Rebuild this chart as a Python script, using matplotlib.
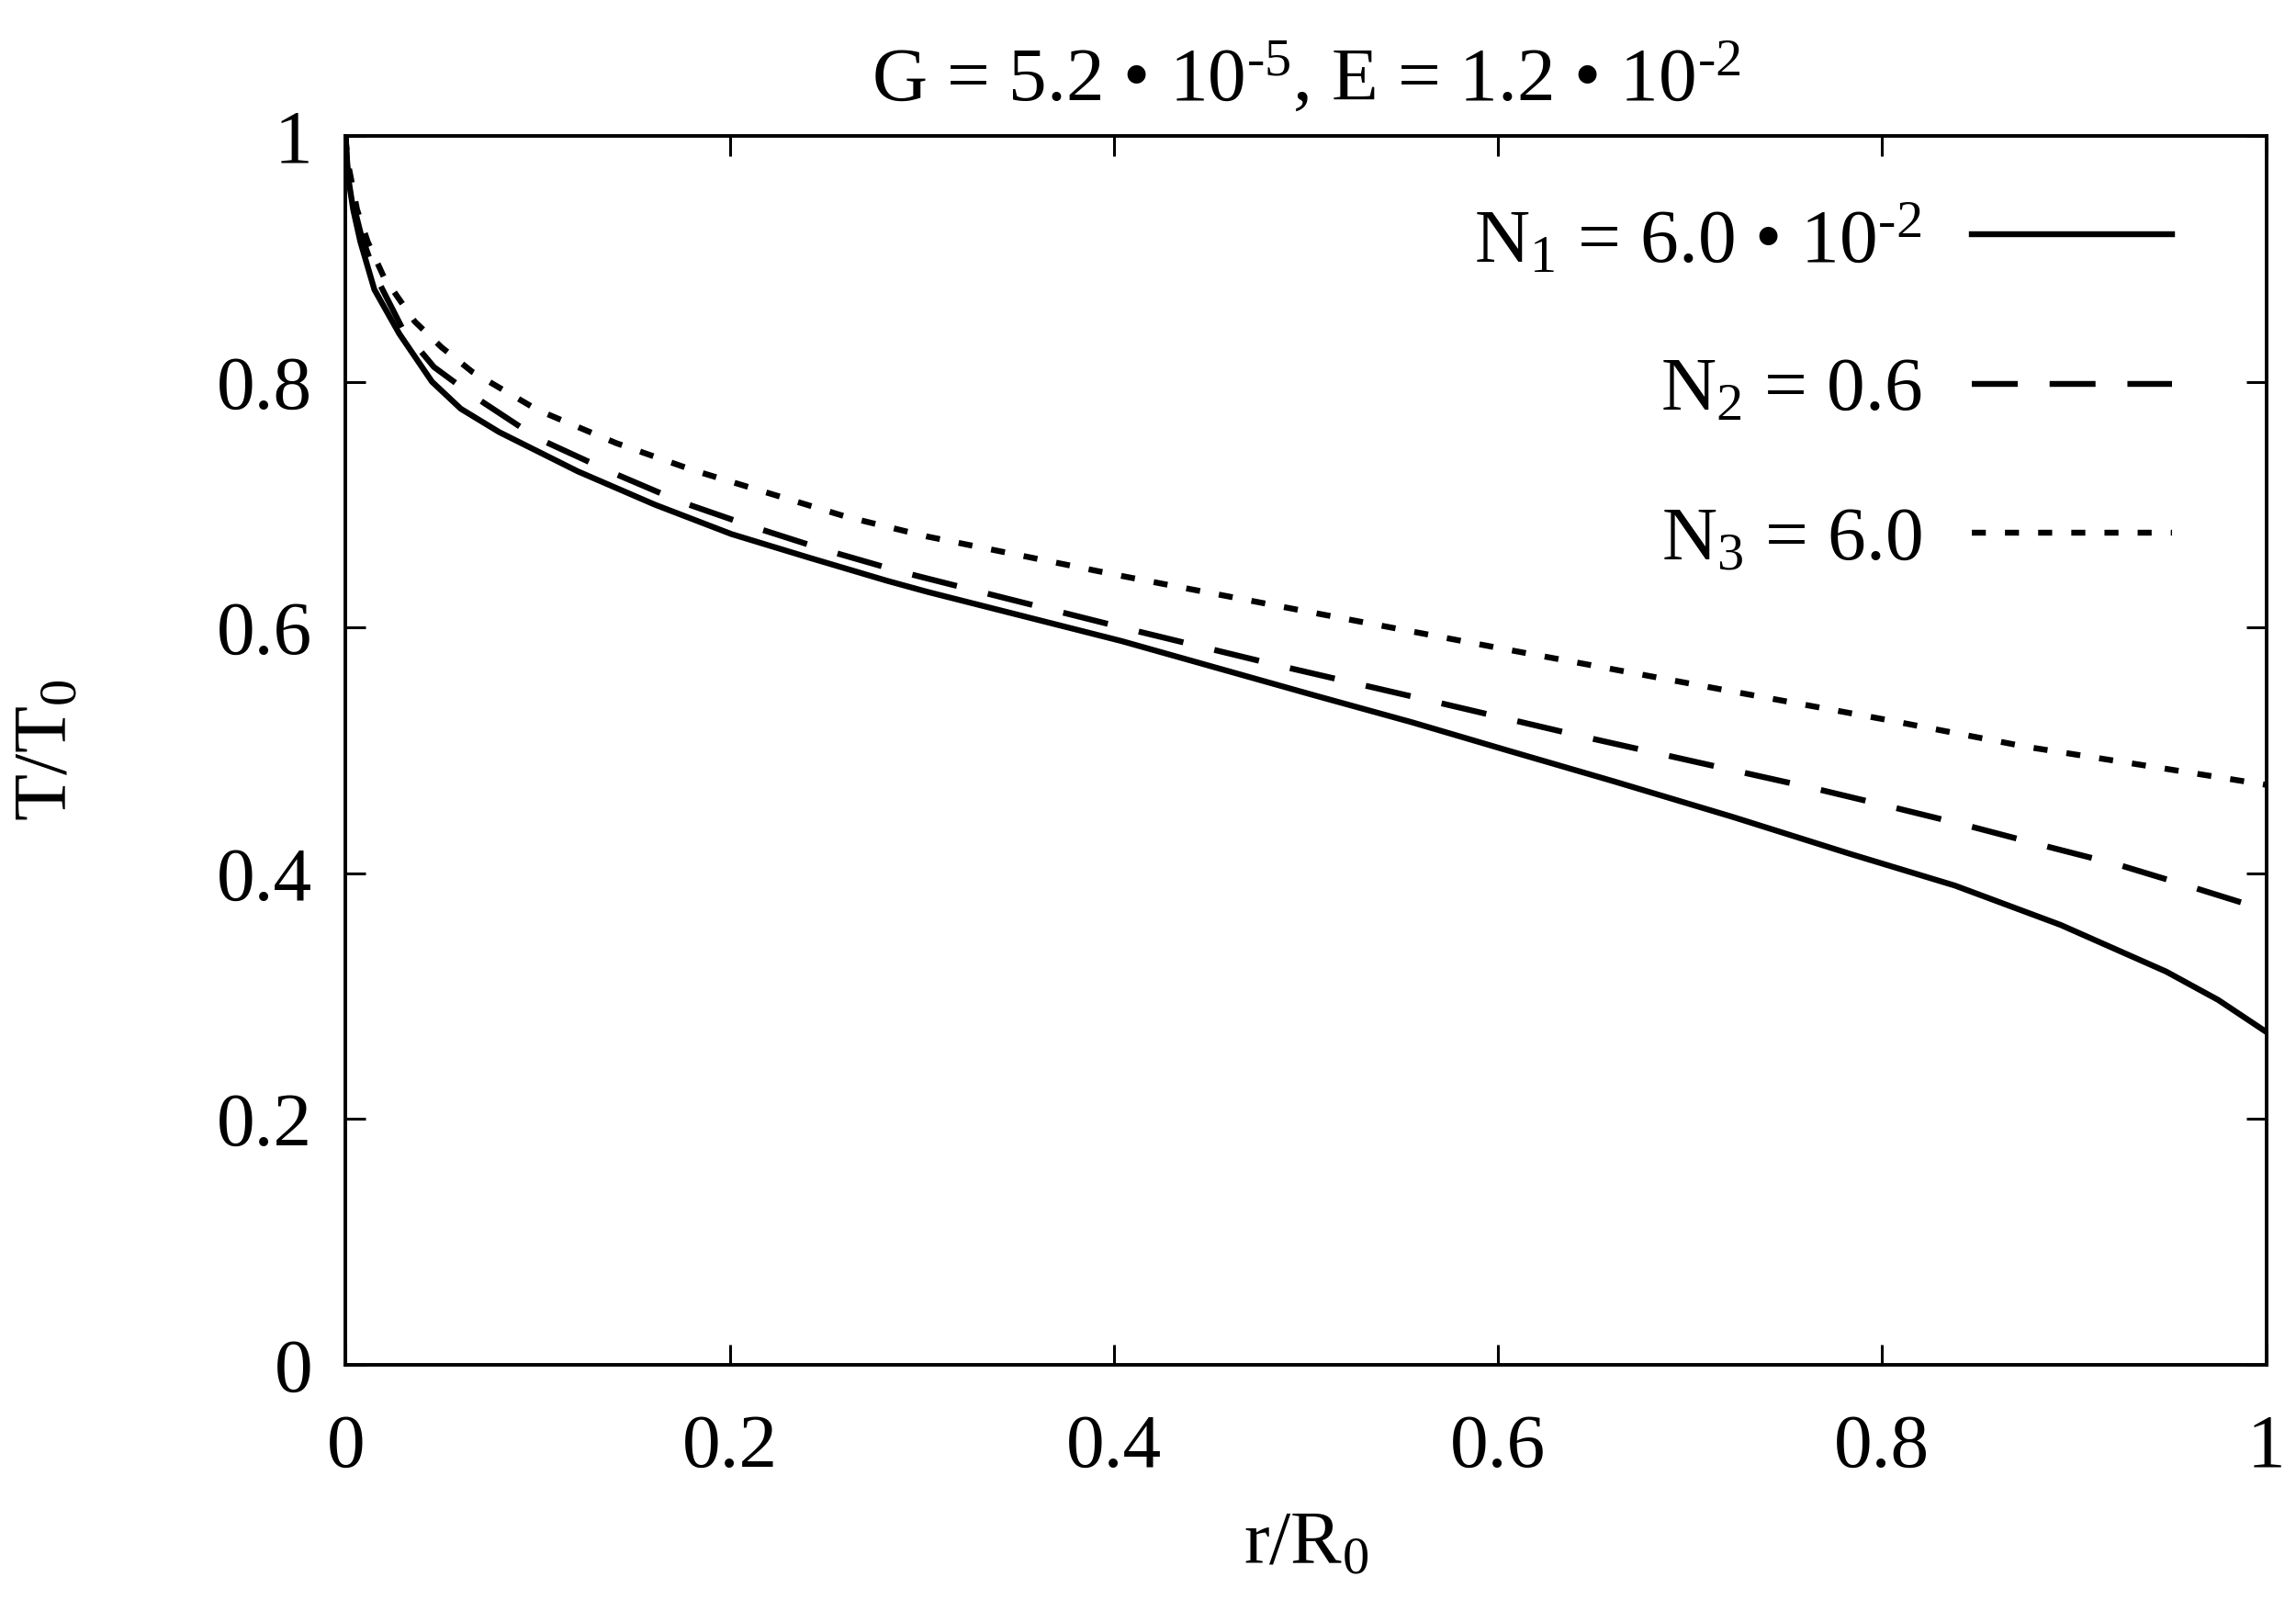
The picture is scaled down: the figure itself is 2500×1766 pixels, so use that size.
import matplotlib
matplotlib.use('Agg')
from matplotlib import pyplot as plt

FONT = 'Liberation Serif'

# values
r_n1 = [0, 0.001, 0.004, 0.0077, 0.015, 0.028, 0.045, 0.06, 0.08, 0.121, 0.161, 0.201, 0.241,
        0.282, 0.303, 0.404, 0.504, 0.555, 0.605, 0.66, 0.722, 0.783, 0.838, 0.893, 0.948,
        0.975, 1.0]
t_n1 = [1.0, 0.97, 0.94, 0.914, 0.875, 0.839, 0.80, 0.778, 0.759, 0.727, 0.700, 0.676, 0.657,
        0.638, 0.629, 0.589, 0.545, 0.523, 0.500, 0.475, 0.446, 0.416, 0.390, 0.358, 0.320,
        0.297, 0.271]

r_n2 = [0, 0.001, 0.004, 0.008, 0.016, 0.03, 0.046, 0.066, 0.1, 0.139, 0.175, 0.212, 0.25,
        0.29, 0.328, 0.407, 0.486, 0.566, 0.645, 0.722, 0.765, 0.805, 0.844, 0.883, 0.923,
        0.961, 1.0]
t_n2 = [1.0, 0.975, 0.945, 0.92, 0.885, 0.842, 0.812, 0.789, 0.754, 0.726, 0.702, 0.682, 0.663,
        0.645, 0.630, 0.599, 0.569, 0.540, 0.511, 0.484, 0.469, 0.454, 0.439, 0.423, 0.407,
        0.389, 0.370]

r_n3 = [0, 0.001, 0.006, 0.0115, 0.02, 0.036, 0.05, 0.066, 0.1, 0.141, 0.181, 0.221, 0.261,
        0.303, 0.404, 0.504, 0.605, 0.722, 0.802, 0.875, 0.948, 1.0]
t_n3 = [1.0, 0.98, 0.94, 0.914, 0.885, 0.849, 0.828, 0.808, 0.777, 0.750, 0.728, 0.709, 0.690,
        0.674, 0.642, 0.612, 0.582, 0.548, 0.525, 0.503, 0.485, 0.472]

labels = [r'N$_1$ = 6.0 • 10$^{\text{-}2}$', r'N$_2$ = 0.6', r'N$_3$ = 6.0']
title = r'G = 5.2 • 10$^{\text{-}5}$, E = 1.2 • 10$^{\text{-}2}$'
ticks = [0, 0.2, 0.4, 0.6, 0.8, 1]
tick_labels = ['0', '0.2', '0.4', '0.6', '0.8', '1']

plt.rcParams['font.family'] = [FONT, 'DejaVu Serif']
plt.rcParams['mathtext.fontset'] = 'custom'
plt.rcParams['mathtext.rm'] = FONT
plt.rcParams['mathtext.it'] = FONT + ':italic'
plt.rcParams['mathtext.default'] = 'rm'
plt.rcParams['lines.scale_dashes'] = False

FS = 60

fig = plt.figure(figsize=(25, 17.66), dpi=100)
ax = fig.add_axes([0.1505, 0.1585, 0.8365, 0.7577])

lw = 4.6
ax.plot(r_n1, t_n1, color='black', lw=lw, ls='-', label=labels[0])
ax.plot(r_n2, t_n2, color='black', lw=lw, ls=(0, (36, 25)), label=labels[1])
ax.plot(r_n3, t_n3, color='black', lw=lw, ls=(0, (11, 15)), label=labels[2])

ax.set_xlim(0, 1)
ax.set_ylim(0, 1)
ax.set_xticks(ticks)
ax.set_xticklabels(tick_labels)
ax.set_yticks(ticks)
ax.set_yticklabels(tick_labels)
ax.tick_params(direction='in', length=16, width=2.2, labelsize=FS,
               top=True, right=True)
ax.tick_params(axis='x', pad=38)
ax.tick_params(axis='y', pad=26)
for s in ax.spines.values():
    s.set_linewidth(2.8)

ax.set_xlabel(r'r/R$_0$', fontsize=FS, labelpad=22)
ax.set_ylabel(r'T/T$_0$', fontsize=FS, labelpad=105)
ax.set_title(title, fontsize=FS, pad=28)

ax.legend(loc='upper right', bbox_to_anchor=(0.967, 0.969), frameon=False,
          markerfirst=False, fontsize=FS, handlelength=2.62, handletextpad=0.65,
          labelspacing=1.03, borderaxespad=0)

fig.savefig('out.png', dpi=100)
